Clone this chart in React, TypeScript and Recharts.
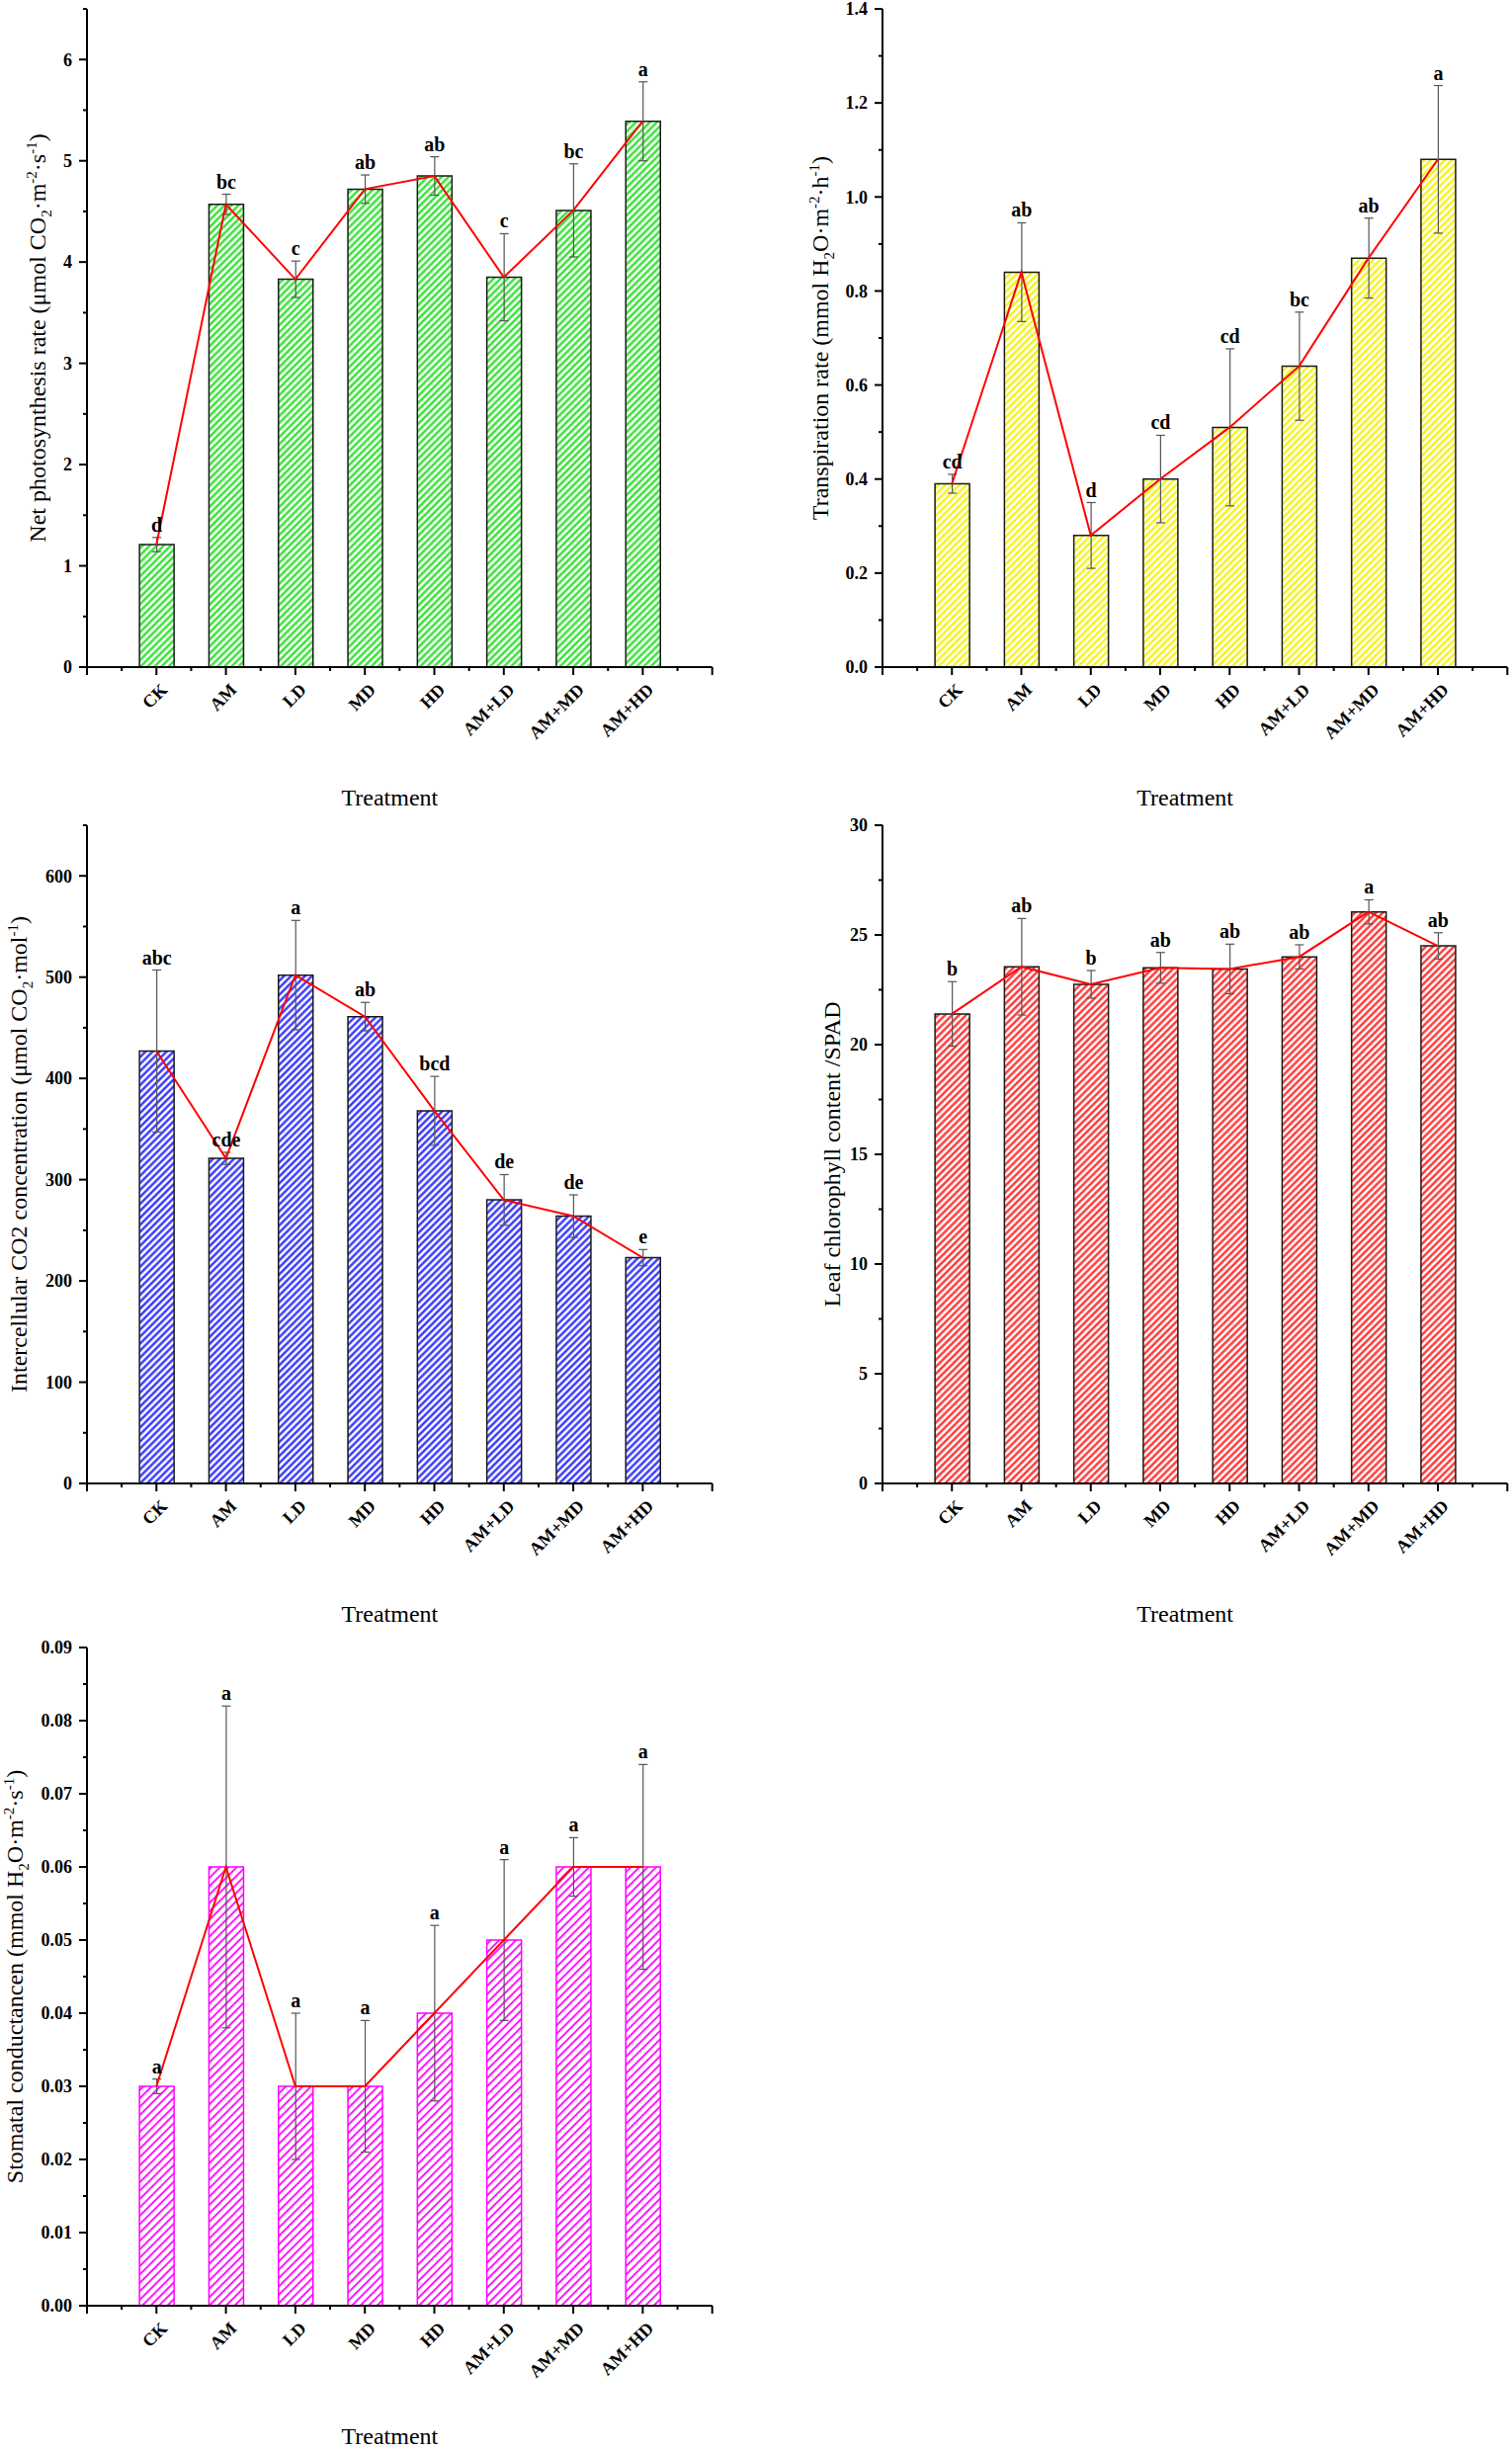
import React from 'react';
import { ComposedChart, Bar, Line, XAxis, YAxis, ErrorBar, LabelList } from 'recharts';

// ---------- data ----------
const treatments = ['CK', 'AM', 'LD', 'MD', 'HD', 'AM+LD', 'AM+MD', 'AM+HD'];
const categoryPositions = [1, 2, 3, 4, 5, 6, 7, 8];

const pnValues = [1.21, 4.57, 3.83, 4.72, 4.85, 3.85, 4.51, 5.39];
const pnErrors = [0.07, 0.1, 0.18, 0.14, 0.19, 0.43, 0.46, 0.39];
const pnLetters = ['d', 'bc', 'c', 'ab', 'ab', 'c', 'bc', 'a'];

const trValues = [0.39, 0.84, 0.28, 0.4, 0.51, 0.64, 0.87, 1.08];
const trErrors = [0.02, 0.105, 0.07, 0.093, 0.167, 0.115, 0.085, 0.157];
const trLetters = ['cd', 'ab', 'd', 'cd', 'cd', 'bc', 'ab', 'a'];

const ciValues = [427, 321, 502, 461, 368, 280, 264, 223];
const ciErrors = [80, 6, 54, 14, 34, 25, 21, 8];
const ciLetters = ['abc', 'cde', 'a', 'ab', 'bcd', 'de', 'de', 'e'];

const spadValues = [21.4, 23.55, 22.75, 23.5, 23.45, 24.0, 26.05, 24.5];
const spadErrors = [1.47, 2.2, 0.63, 0.7, 1.13, 0.55, 0.55, 0.6];
const spadLetters = ['b', 'ab', 'b', 'ab', 'ab', 'ab', 'a', 'ab'];

const gsValues = [0.03, 0.06, 0.03, 0.03, 0.04, 0.05, 0.06, 0.06];
const gsErrors = [0.001, 0.022, 0.01, 0.009, 0.012, 0.011, 0.004, 0.014];
const gsLetters = ['a', 'a', 'a', 'a', 'a', 'a', 'a', 'a'];

// x axis ticks (major at categories, minor in between)
const xMajorTicks = [0, 1, 2, 3, 4, 5, 6, 7, 8, 9];
const xMinorTicks = [0.5, 1.5, 2.5, 3.5, 4.5, 5.5, 6.5, 7.5, 8.5];

// y axis ticks
const pnMajor = [0, 1, 2, 3, 4, 5, 6];
const pnMinor = [0.5, 1.5, 2.5, 3.5, 4.5, 5.5, 6.5];
const trMajor = [0, 0.2, 0.4, 0.6, 0.8, 1.0, 1.2, 1.4];
const trMinor = [0.1, 0.3, 0.5, 0.7, 0.9, 1.1, 1.3];
const ciMajor = [0, 100, 200, 300, 400, 500, 600];
const ciMinor = [50, 150, 250, 350, 450, 550, 650];
const spadMajor = [0, 5, 10, 15, 20, 25, 30];
const spadMinor = [2.5, 7.5, 12.5, 17.5, 22.5, 27.5];
const gsMajor = [0, 0.01, 0.02, 0.03, 0.04, 0.05, 0.06, 0.07, 0.08, 0.09];
const gsMinor = [0.005, 0.015, 0.025, 0.035, 0.045, 0.055, 0.065, 0.075, 0.085];

// ---------- styling ----------
const FONT = '"Liberation Serif", "Times New Roman", serif';

type Seg = { t: string; sub?: boolean; sup?: boolean };

const pnTitle: Seg[] = [
  { t: 'Net photosynthesis rate (μmol CO' }, { t: '2', sub: true }, { t: '·m' }, { t: '-2', sup: true },
  { t: '·s' }, { t: '-1', sup: true }, { t: ')' },
];
const trTitle: Seg[] = [
  { t: 'Transpiration rate (mmol H' }, { t: '2', sub: true }, { t: 'O·m' }, { t: '-2', sup: true },
  { t: '·h' }, { t: '-1', sup: true }, { t: ')' },
];
const ciTitle: Seg[] = [
  { t: 'Intercellular CO2 concentration (μmol CO' }, { t: '2', sub: true }, { t: '·mol' }, { t: '-1', sup: true },
  { t: ')' },
];
const spadTitle: Seg[] = [{ t: 'Leaf chlorophyll content /SPAD' }];
const gsTitle: Seg[] = [
  { t: 'Stomatal conductancen (mmol H' }, { t: '2', sub: true }, { t: 'O·m' }, { t: '-2', sup: true },
  { t: '·s' }, { t: '-1', sup: true }, { t: ')' },
];

type Cfg = {
  id: string;
  values: number[];
  errors: number[];
  letters: string[];
  title: Seg[];
  domain: [number, number];
  major: number[];
  minor: number[];
  decimals: number;
  color: string;
  border: string;
  hatchGap: number;
  hatchWidth: number;
  titleOffset: number;
};

const renderSegs = (segs: Seg[]) => {
  const out: any[] = [];
  let shift = 0;
  segs.forEach((s, i) => {
    const target = s.sup ? -9 : s.sub ? 6 : 0;
    const dy = target - shift;
    shift = target;
    out.push(
      <tspan key={i} dy={dy} fontSize={s.sup || s.sub ? 15 : 24}>
        {s.t}
      </tspan>
    );
  });
  return out;
};

const isIn = (arr: number[], v: number) => arr.some((a) => Math.abs(a - v) < 1e-9);

const Panel = ({ cfg, left, top, width, height, yAxisWidth, marginRight, xAxisHeight }: any) => {
  const data = categoryPositions.map((pos, i) => ({
    pos,
    name: treatments[i],
    value: cfg.values[i],
    err: cfg.errors[i],
    letter: cfg.letters[i],
  }));
  const pid = 'hatch-' + cfg.id;
  const yTicks = [...cfg.major, ...cfg.minor].sort((a, b) => a - b);
  const xTicks = [...xMajorTicks, ...xMinorTicks].sort((a, b) => a - b);

  const XTick = (p: any) => {
    const { x, y, payload } = p;
    const v = payload.value;
    const major = isIn(xMajorTicks, v);
    const idx = categoryPositions.findIndex((c) => Math.abs(c - v) < 1e-9);
    const label = idx >= 0 ? treatments[idx] : null;
    const ax = x + 12;
    const ay = y + 24;
    return (
      <g>
        <line x1={x} y1={y} x2={x} y2={y + (major ? 8 : 4)} stroke="#000" strokeWidth={2} />
        {label && (
          <text
            x={ax}
            y={ay}
            textAnchor="end"
            transform={`rotate(-45 ${ax} ${ay})`}
            fontFamily={FONT}
            fontWeight="bold"
            fontSize={18}
            fill="#000"
          >
            {label}
          </text>
        )}
      </g>
    );
  };

  const YTick = (p: any) => {
    const { x, y, payload } = p;
    const v = payload.value;
    const major = isIn(cfg.major, v);
    return (
      <g>
        <line x1={x} y1={y} x2={x - (major ? 8 : 4)} y2={y} stroke="#000" strokeWidth={2} />
        {major && (
          <text x={x - 15} y={y} dy="0.35em" textAnchor="end" fontFamily={FONT} fontWeight="bold" fontSize={18} fill="#000">
            {v.toFixed(cfg.decimals)}
          </text>
        )}
      </g>
    );
  };

  const XTitle = (p: any) => {
    const vb = p.viewBox || p;
    return (
      <text x={vb.x + vb.width / 2 - 10} y={vb.y + 140} textAnchor="middle" fontFamily={FONT} fontSize={24} fill="#000">
        Treatment
      </text>
    );
  };

  const YTitle = (p: any) => {
    const vb = p.viewBox || p;
    const tx = vb.x + vb.width - cfg.titleOffset;
    const ty = vb.y + vb.height / 2;
    return (
      <text
        x={tx}
        y={ty}
        textAnchor="middle"
        transform={`rotate(-90 ${tx} ${ty})`}
        fontFamily={FONT}
        fontSize={24}
        fill="#000"
      >
        {renderSegs(cfg.title)}
      </text>
    );
  };

  const Letter = (p: any) => {
    const vb = p.viewBox || p;
    const i = p.index;
    const val = cfg.values[i];
    const pxPer = vb.height / val;
    const topY = vb.y - cfg.errors[i] * pxPer;
    return (
      <text
        x={vb.x + vb.width / 2}
        y={topY - 6}
        textAnchor="middle"
        fontFamily={FONT}
        fontWeight="bold"
        fontSize={20}
        fill="#000"
      >
        {cfg.letters[i]}
      </text>
    );
  };

  return (
    <div style={{ position: 'absolute', left, top, width, height }}>
      <ComposedChart
        width={width}
        height={height}
        data={data}
        margin={{ top: 9, right: marginRight, bottom: 0, left: 0 }}
      >
        <defs>
          <pattern
            id={pid}
            patternUnits="userSpaceOnUse"
            width={cfg.hatchGap}
            height={cfg.hatchGap}
            patternTransform="rotate(45)"
          >
            <rect x={0} y={0} width={cfg.hatchGap} height={cfg.hatchGap} fill="#ffffff" />
            <line
              x1={cfg.hatchGap / 2}
              y1={0}
              x2={cfg.hatchGap / 2}
              y2={cfg.hatchGap}
              stroke={cfg.color}
              strokeWidth={cfg.hatchWidth}
            />
          </pattern>
        </defs>
        <XAxis
          type="number"
          dataKey="pos"
          domain={[0, 9]}
          ticks={xTicks}
          interval={0}
          tickSize={0}
          tickMargin={0}
          tickLine={false}
          axisLine={{ stroke: '#000', strokeWidth: 2 }}
          height={xAxisHeight}
          tick={<XTick />}
          label={XTitle}
          allowDecimals
        />
        <YAxis
          type="number"
          domain={cfg.domain}
          ticks={yTicks}
          interval={0}
          width={yAxisWidth}
          tickSize={0}
          tickMargin={0}
          tickLine={false}
          axisLine={{ stroke: '#000', strokeWidth: 2 }}
          tick={<YTick />}
          label={YTitle}
          allowDataOverflow
        />
        <Bar
          dataKey="value"
          barSize={35}
          fill={`url(#${pid})`}
          stroke={cfg.border}
          strokeWidth={1.5}
          isAnimationActive={false}
        >
          <ErrorBar dataKey="err" width={4.5} stroke="#555555" strokeWidth={1.2} direction="y" />
          <LabelList dataKey="letter" content={Letter} />
        </Bar>
        <Line
          dataKey="value"
          type="linear"
          stroke="#ff0000"
          strokeWidth={2}
          dot={false}
          activeDot={false}
          isAnimationActive={false}
        />
      </ComposedChart>
    </div>
  );
};

const pnCfg: Cfg = {
  id: 'pn', values: pnValues, errors: pnErrors, letters: pnLetters, title: pnTitle,
  domain: [0, 6.5], major: pnMajor, minor: pnMinor, decimals: 0,
  color: '#1ee01e', border: '#1a1a1a', hatchGap: 5, hatchWidth: 2.2, titleOffset: 42,
};
const trCfg: Cfg = {
  id: 'tr', values: trValues, errors: trErrors, letters: trLetters, title: trTitle,
  domain: [0, 1.4], major: trMajor, minor: trMinor, decimals: 1,
  color: '#f2f200', border: '#1a1a1a', hatchGap: 5, hatchWidth: 2.2, titleOffset: 55,
};
const ciCfg: Cfg = {
  id: 'ci', values: ciValues, errors: ciErrors, letters: ciLetters, title: ciTitle,
  domain: [0, 650], major: ciMajor, minor: ciMinor, decimals: 0,
  color: '#2020ff', border: '#1a1a1a', hatchGap: 5, hatchWidth: 2.2, titleOffset: 61,
};
const spadCfg: Cfg = {
  id: 'spad', values: spadValues, errors: spadErrors, letters: spadLetters, title: spadTitle,
  domain: [0, 30], major: spadMajor, minor: spadMinor, decimals: 0,
  color: '#ff2020', border: '#1a1a1a', hatchGap: 5, hatchWidth: 2.2, titleOffset: 43,
};
const gsCfg: Cfg = {
  id: 'gs', values: gsValues, errors: gsErrors, letters: gsLetters, title: gsTitle,
  domain: [0, 0.09], major: gsMajor, minor: gsMinor, decimals: 2,
  color: '#ff00ff', border: '#ff00ff', hatchGap: 6, hatchWidth: 1.8, titleOffset: 65,
};

export default function App() {
  return (
    <div
      style={{
        position: 'absolute',
        left: 0,
        top: 0,
        width: 1530,
        height: 2480,
        background: '#ffffff',
        overflow: 'hidden',
      }}
    >
      <Panel cfg={pnCfg} left={0} top={0} width={765} height={826} yAxisWidth={88} marginRight={44.3} xAxisHeight={151} />
      <Panel cfg={trCfg} left={765} top={0} width={765} height={826} yAxisWidth={128} marginRight={4.7} xAxisHeight={151} />
      <Panel cfg={ciCfg} left={0} top={826} width={765} height={826} yAxisWidth={88} marginRight={44.3} xAxisHeight={151} />
      <Panel cfg={spadCfg} left={765} top={826} width={765} height={826} yAxisWidth={128} marginRight={4.7} xAxisHeight={151} />
      <Panel cfg={gsCfg} left={0} top={1658} width={765} height={822} yAxisWidth={88} marginRight={44.3} xAxisHeight={147} />
    </div>
  );
}
